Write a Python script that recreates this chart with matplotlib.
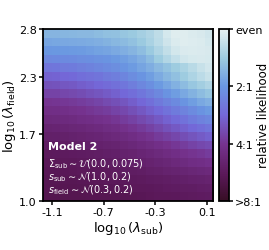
import matplotlib
matplotlib.use('Agg')
import matplotlib.pyplot as plt
import numpy as np
from matplotlib.colors import LinearSegmentedColormap

# log2 of relative likelihood, rows from top (log10 lambda_field = 2.8) to bottom (1.0)
LogLike = [
    [-0.72,-0.72,-0.71,-0.70,-0.69,-0.68,-0.65,-0.62,-0.60,-0.56,-0.52,-0.45,-0.38,-0.28,-0.12,-0.05,-0.05,-0.08,-0.10,-0.15],
    [-0.86,-0.85,-0.84,-0.83,-0.82,-0.80,-0.78,-0.75,-0.70,-0.66,-0.60,-0.52,-0.42,-0.30,-0.17,-0.08,-0.05,-0.06,-0.08,-0.12],
    [-1.00,-0.99,-0.98,-0.97,-0.95,-0.93,-0.90,-0.87,-0.83,-0.78,-0.72,-0.64,-0.52,-0.38,-0.25,-0.14,-0.09,-0.08,-0.09,-0.10],
    [-1.15,-1.14,-1.13,-1.12,-1.10,-1.08,-1.05,-1.02,-0.98,-0.93,-0.86,-0.78,-0.66,-0.50,-0.36,-0.24,-0.15,-0.11,-0.10,-0.11],
    [-1.35,-1.34,-1.31,-1.29,-1.25,-1.22,-1.18,-1.13,-1.09,-1.03,-0.95,-0.87,-0.79,-0.69,-0.59,-0.50,-0.40,-0.31,-0.22,-0.15],
    [-1.55,-1.54,-1.51,-1.48,-1.44,-1.40,-1.36,-1.31,-1.26,-1.19,-1.11,-1.02,-0.93,-0.82,-0.71,-0.61,-0.50,-0.39,-0.30,-0.22],
    [-1.70,-1.69,-1.66,-1.63,-1.59,-1.55,-1.51,-1.46,-1.41,-1.34,-1.26,-1.17,-1.08,-0.97,-0.86,-0.76,-0.65,-0.55,-0.46,-0.38],
    [-1.85,-1.84,-1.81,-1.79,-1.75,-1.71,-1.67,-1.62,-1.57,-1.50,-1.43,-1.34,-1.25,-1.15,-1.04,-0.94,-0.84,-0.74,-0.65,-0.57],
    [-2.00,-1.99,-1.96,-1.94,-1.90,-1.87,-1.83,-1.78,-1.73,-1.67,-1.59,-1.51,-1.42,-1.32,-1.23,-1.13,-1.03,-0.93,-0.84,-0.77],
    [-2.10,-2.09,-2.07,-2.04,-2.01,-1.98,-1.94,-1.90,-1.85,-1.80,-1.73,-1.65,-1.57,-1.48,-1.39,-1.30,-1.21,-1.12,-1.04,-0.97],
    [-2.20,-2.19,-2.17,-2.15,-2.12,-2.09,-2.06,-2.02,-1.97,-1.92,-1.86,-1.79,-1.72,-1.63,-1.55,-1.47,-1.39,-1.30,-1.23,-1.17],
    [-2.30,-2.29,-2.27,-2.25,-2.23,-2.20,-2.17,-2.13,-2.10,-2.05,-1.99,-1.93,-1.86,-1.79,-1.71,-1.64,-1.57,-1.49,-1.43,-1.37],
    [-2.38,-2.37,-2.36,-2.34,-2.32,-2.29,-2.27,-2.23,-2.20,-2.16,-2.11,-2.06,-2.00,-1.93,-1.87,-1.81,-1.74,-1.68,-1.62,-1.57],
    [-2.45,-2.44,-2.43,-2.42,-2.40,-2.37,-2.35,-2.33,-2.30,-2.26,-2.22,-2.17,-2.13,-2.07,-2.02,-1.96,-1.91,-1.85,-1.80,-1.76],
    [-2.50,-2.49,-2.48,-2.47,-2.45,-2.44,-2.42,-2.40,-2.37,-2.34,-2.31,-2.27,-2.23,-2.18,-2.14,-2.09,-2.04,-2.00,-1.96,-1.92],
    [-2.54,-2.54,-2.53,-2.52,-2.50,-2.49,-2.47,-2.45,-2.43,-2.41,-2.38,-2.35,-2.31,-2.28,-2.24,-2.20,-2.16,-2.12,-2.09,-2.06],
    [-2.56,-2.56,-2.55,-2.54,-2.53,-2.52,-2.51,-2.50,-2.48,-2.46,-2.44,-2.42,-2.39,-2.36,-2.33,-2.30,-2.28,-2.25,-2.22,-2.20],
    [-2.58,-2.58,-2.57,-2.57,-2.56,-2.55,-2.54,-2.53,-2.52,-2.51,-2.49,-2.48,-2.46,-2.44,-2.42,-2.40,-2.37,-2.35,-2.34,-2.32],
    [-2.60,-2.60,-2.59,-2.59,-2.58,-2.58,-2.57,-2.56,-2.56,-2.55,-2.53,-2.52,-2.51,-2.49,-2.47,-2.46,-2.44,-2.43,-2.41,-2.40],
    [-2.62,-2.62,-2.62,-2.61,-2.61,-2.60,-2.60,-2.59,-2.58,-2.58,-2.57,-2.56,-2.54,-2.53,-2.52,-2.51,-2.49,-2.48,-2.47,-2.46],
]
XRange = [-1.17, 0.15]
YRange = [1.0, 2.8]
XTicks = [-1.1, -0.7, -0.3, 0.1]
YTicks = [1.0, 1.7, 2.3, 2.8]
CbTicks = [-3, -2, -1, 0]
CbLabels = ['>8:1', '4:1', '2:1', 'even']

Cmap = LinearSegmentedColormap.from_list('dense_r', [
    (0.0, '#360e24'), (0.15, '#5a1858'), (0.33, '#76338f'), (0.5, '#7468d8'),
    (0.67, '#6a98e2'), (0.83, '#9ccbe0'), (1.0, '#e6f1f1')])

fig = plt.figure(figsize=(2.69, 2.51), dpi=100)
ax = fig.add_axes([0.160, 0.195, 0.632, 0.685])
cax = fig.add_axes([0.814, 0.195, 0.037, 0.685])

im = ax.imshow(np.array(LogLike), cmap=Cmap, vmin=-3, vmax=0, origin='upper',
               extent=[XRange[0], XRange[1], YRange[0], YRange[1]], aspect='auto',
               interpolation='nearest')
ax.set_xticks(XTicks)
ax.set_xticklabels(['%.1f' % v for v in XTicks], fontsize=8)
ax.set_yticks(YTicks)
ax.set_yticklabels(['%.1f' % v for v in YTicks], fontsize=8)
ax.tick_params(length=3, width=1.1, pad=1.5)
ax.set_xlabel(r'$\log_{10}(\lambda_{\rm sub})$', fontsize=9.5, labelpad=1)
ax.set_ylabel(r'$\log_{10}(\lambda_{\rm field})$', fontsize=9.5, labelpad=1)
for sp in ax.spines.values():
    sp.set_linewidth(1.3)

ax.text(0.03, 0.30, 'Model 2', transform=ax.transAxes, color='white',
        fontsize=8, fontweight='bold')
ax.text(0.03, 0.05, r'$\Sigma_{\rm sub}\sim\mathcal{U}(0.0, 0.075)$' + '\n'
        + r'$s_{\rm sub}\sim\mathcal{N}(1.0, 0.2)$' + '\n'
        + r'$s_{\rm field}\sim\mathcal{N}(0.3, 0.2)$',
        transform=ax.transAxes, color='white', fontsize=7, linespacing=0.95)

cb = fig.colorbar(im, cax=cax, ticks=CbTicks)
cb.ax.set_yticklabels(CbLabels, fontsize=8)
cb.ax.tick_params(length=3, width=1.1, pad=1.5)
cb.outline.set_linewidth(1.3)
fig.text(0.978, 0.54, 'relative likelihood', rotation=90, ha='center', va='center',
         fontsize=8.5)

fig.savefig('out.png', dpi=100)
